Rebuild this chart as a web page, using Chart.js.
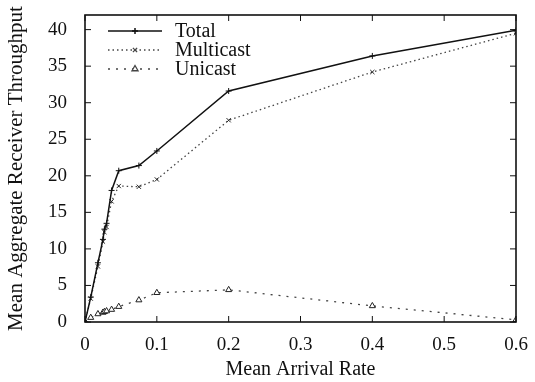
<!DOCTYPE html>
<html>
<head>
<meta charset="utf-8">
<script src="https://cdn.jsdelivr.net/npm/chart.js@4/dist/chart.umd.min.js"></script>
<style>
	html, body { margin: 0; padding: 0; background: #fff; }
	#box { width: 535px; height: 382px; }
</style>
</head>
<body>
<div id="box"><canvas id="my_chart"></canvas></div>
<script>
// Data
const rates = [0, 0.008, 0.018, 0.025, 0.027, 0.03, 0.037, 0.047, 0.075, 0.1, 0.2, 0.4, 0.6]
const total = [0, 3.4, 8.1, 11.3, 12.7, 13.5, 18, 20.7, 21.4, 23.4, 31.6, 36.4, 39.9]
const multicast = [0, 3.2, 7.6, 11, 12.3, 13, 16.5, 18.6, 18.5, 19.5, 27.6, 34.2, 39.5]
const unicast = [0, 0.6, 1.1, 1.3, 1.4, 1.5, 1.7, 2.1, 3.0, 4.0, 4.4, 2.2, 0.3]
const xTicks = [0, 0.1, 0.2, 0.3, 0.4, 0.5, 0.6]
const yTicks = [0, 5, 10, 15, 20, 25, 30, 35, 40]

const serif = "'Liberation Serif', 'DejaVu Serif', serif"

function pts(ys) {
	return rates.map((r, i) => ({ x: r, y: ys[i] }))
}

// Frame with inward ticks, gnuplot style
const frame = {
	id: 'frame',
	afterDatasetsDraw(chart) {
		const { ctx, chartArea: a, scales } = chart
		ctx.save()
		ctx.strokeStyle = '#111'
		ctx.lineWidth = 1.6
		ctx.strokeRect(a.left, a.top, a.right - a.left, a.bottom - a.top)
		ctx.lineWidth = 1
		ctx.beginPath()
		xTicks.forEach(v => {
			const px = scales.x.getPixelForValue(v)
			ctx.moveTo(px, a.bottom); ctx.lineTo(px, a.bottom - 6)
			ctx.moveTo(px, a.top); ctx.lineTo(px, a.top + 6)
		})
		yTicks.forEach(v => {
			const py = scales.y.getPixelForValue(v)
			ctx.moveTo(a.left, py); ctx.lineTo(a.left + 6, py)
			ctx.moveTo(a.right, py); ctx.lineTo(a.right - 6, py)
		})
		ctx.stroke()
		ctx.restore()
	}
}

// Legend inside the plot, upper left
const innerLegend = {
	id: 'innerLegend',
	afterDraw(chart) {
		const { ctx, chartArea: a } = chart
		ctx.save()
		chart.data.datasets.forEach((ds, i) => {
			const y = a.top + 16 + i * 19
			const x0 = a.left + 23, x1 = a.left + 77
			ctx.strokeStyle = ds.borderColor
			ctx.lineWidth = ds.borderWidth
			ctx.setLineDash(ds.borderDash || [])
			ctx.beginPath(); ctx.moveTo(x0, y); ctx.lineTo(x1, y); ctx.stroke()
			ctx.setLineDash([])
			ctx.fillStyle = '#fff'
			Chart.helpers.drawPoint(ctx, {
				pointStyle: ds.pointStyle, radius: ds.pointRadius,
				borderWidth: 1, rotation: 0
			}, (x0 + x1) / 2, y)
			ctx.fillStyle = '#111'
			ctx.font = '20px ' + serif
			ctx.textBaseline = 'middle'
			ctx.fillText(ds.label, a.left + 90, y + 1)
		})
		ctx.restore()
	}
}

const ctx = document.getElementById('my_chart')
const chart = new Chart(ctx, {
	type: 'line',
	data: {
		datasets: [{
			label: 'Total',
			data: pts(total),
			borderColor: '#111',
			borderWidth: 1.5,
			pointStyle: 'cross',
			pointRadius: 3,
			pointBorderColor: '#111',
			pointBorderWidth: 1
		}, {
			label: 'Multicast',
			data: pts(multicast),
			borderColor: '#444',
			borderWidth: 1.3,
			borderDash: [1.5, 3],
			pointStyle: 'crossRot',
			pointRadius: 3,
			pointBorderColor: '#222',
			pointBorderWidth: 1
		}, {
			label: 'Unicast',
			data: pts(unicast),
			borderColor: '#444',
			borderWidth: 1.3,
			borderDash: [2, 6],
			pointStyle: 'triangle',
			pointRadius: 3.5,
			pointBackgroundColor: '#fff',
			pointBorderColor: '#222',
			pointBorderWidth: 1
		}]
	},
	options: {
		responsive: true,
		maintainAspectRatio: false,
		animation: false,
		layout: { padding: { top: 15, right: 19, left: 0, bottom: 0 } },
		plugins: { legend: { display: false }, tooltip: { enabled: false } },
		scales: {
			x: {
				type: 'linear',
				min: 0,
				max: 0.6,
				afterBuildTicks: s => { s.ticks = xTicks.map(v => ({ value: v })) },
				afterFit: s => {
					s.height = 60
					s.paddingLeft = 0
					s.paddingRight = 0
				},
				grid: { display: false, drawTicks: false },
				border: { display: false },
				ticks: {
					color: '#111',
					padding: 12,
					font: { family: serif, size: 19 },
					maxRotation: 0,
					callback: v => String(v)
				},
				title: {
					display: true,
					text: 'Mean Arrival Rate',
					color: '#111',
					font: { family: serif, size: 20 },
					padding: { top: 0, bottom: 0 }
				}
			},
			y: {
				min: 0,
				max: 42,
				afterBuildTicks: s => { s.ticks = yTicks.map(v => ({ value: v })) },
				afterFit: s => {
					s.width = 85
					s.paddingTop = 0
					s.paddingBottom = 0
				},
				grid: { display: false, drawTicks: false },
				border: { display: false },
				ticks: {
					color: '#111',
					padding: 18,
					font: { family: serif, size: 19 }
				},
				title: {
					display: true,
					text: 'Mean Aggregate Receiver Throughput',
					color: '#111',
					font: { family: serif, size: 21 },
					padding: { top: 4, bottom: 0 }
				}
			}
		}
	},
	plugins: [frame, innerLegend]
})
</script>
</body>
</html>
